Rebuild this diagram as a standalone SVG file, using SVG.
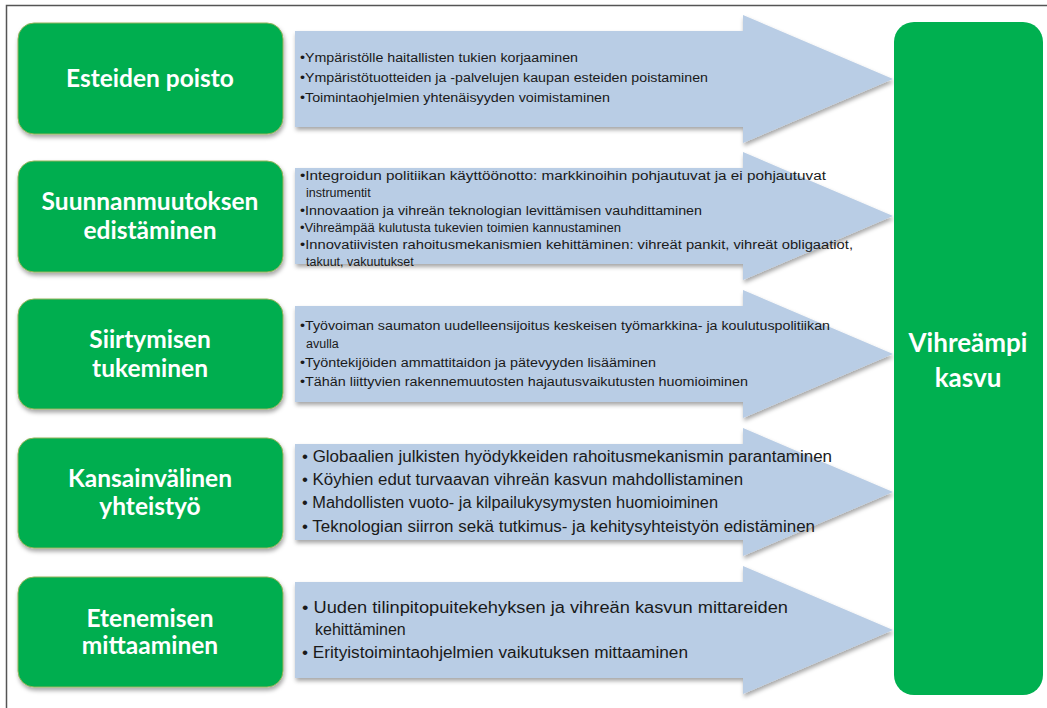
<svg xmlns="http://www.w3.org/2000/svg" width="1047" height="708" viewBox="0 0 1047 708">
<defs>
<filter id="sh" x="-10%" y="-10%" width="120%" height="130%">
<feDropShadow dx="1" dy="3" stdDeviation="2" flood-color="#000" flood-opacity="0.35"/>
</filter>
<path id="arrowShape" d="M0,16 H448 V0 L598,64 L448,128 V112 H0 Z"/>
</defs>
<style>
.frame{stroke:#555;stroke-width:1.5;fill:none}
.box{fill:#00AE4F;stroke:#94B35A;stroke-width:1;filter:url(#sh)}
.big{fill:#00B050}
.arr{fill:#B9CDE5;filter:url(#sh)}
.h{font-family:Lato,"Liberation Sans",sans-serif;font-weight:bold;font-size:24.5px;fill:#fff;text-anchor:middle}
.hb{font-family:Lato,"Liberation Sans",sans-serif;font-weight:bold;font-size:26px;fill:#fff;text-anchor:middle}
.s{font-family:"Liberation Sans",sans-serif;font-size:12.5px;fill:#1a1a1a}
.m{font-family:"Liberation Sans",sans-serif;font-size:16px;fill:#1a1a1a}
</style>
<path class="frame" d="M6.5,708 V5.5 H1047"/>

<g id="connectors">
<use href="#arrowShape" class="arr" x="295" y="15"/>
<use href="#arrowShape" class="arr" x="295" y="152"/>
<use href="#arrowShape" class="arr" x="295" y="290"/>
<use href="#arrowShape" class="arr" x="295" y="428"/>
<use href="#arrowShape" class="arr" x="295" y="566"/>
</g>

<g id="node-target">
<rect class="big" x="894" y="22" width="149" height="673" rx="20"/>
<text class="hb" x="968" y="352">Vihreämpi</text>
<text class="hb" x="968" y="387">kasvu</text>
</g>

<g id="node-esteiden">
<rect class="box" x="18" y="23" width="265" height="111" rx="16"/>
<text class="h" x="150" y="87">Esteiden poisto</text>
</g>
<g id="node-suunnan">
<rect class="box" x="18" y="161" width="265" height="111" rx="16"/>
<text class="h" x="150" y="210">Suunnanmuutoksen</text>
<text class="h" x="150" y="239">edistäminen</text>
</g>
<g id="node-siirtymisen">
<rect class="box" x="18" y="299" width="265" height="110" rx="16"/>
<text class="h" x="150" y="348">Siirtymisen</text>
<text class="h" x="150" y="377">tukeminen</text>
</g>
<g id="node-kansainvalinen">
<rect class="box" x="18" y="438" width="265" height="110" rx="16"/>
<text class="h" x="150" y="487">Kansainvälinen</text>
<text class="h" x="150" y="515">yhteistyö</text>
</g>
<g id="node-etenemisen">
<rect class="box" x="18" y="577" width="265" height="110" rx="16"/>
<text class="h" x="150" y="627">Etenemisen</text>
<text class="h" x="150" y="654">mittaaminen</text>
</g>

<g id="text-arrow1">
<text class="s" x="300" y="62" textLength="278" lengthAdjust="spacingAndGlyphs">•Ympäristölle haitallisten tukien korjaaminen</text>
<text class="s" x="300" y="82" textLength="408" lengthAdjust="spacingAndGlyphs">•Ympäristötuotteiden ja -palvelujen kaupan esteiden poistaminen</text>
<text class="s" x="300" y="102" textLength="310" lengthAdjust="spacingAndGlyphs">•Toimintaohjelmien yhtenäisyyden voimistaminen</text>
</g>
<g id="text-arrow2">
<text class="s" x="300" y="180" textLength="526" lengthAdjust="spacingAndGlyphs">•Integroidun politiikan käyttöönotto:  markkinoihin pohjautuvat  ja ei pohjautuvat</text>
<text class="s" x="306" y="197">instrumentit</text>
<text class="s" x="300" y="215" textLength="402" lengthAdjust="spacingAndGlyphs">•Innovaation ja vihreän teknologian levittämisen vauhdittaminen</text>
<text class="s" x="300" y="232" textLength="321" lengthAdjust="spacingAndGlyphs">•Vihreämpää kulutusta tukevien toimien kannustaminen</text>
<text class="s" x="300" y="249" textLength="553" lengthAdjust="spacingAndGlyphs">•Innovatiivisten rahoitusmekanismien kehittäminen: vihreät pankit, vihreät obligaatiot,</text>
<text class="s" x="306" y="266">takuut, vakuutukset</text>
</g>
<g id="text-arrow3">
<text class="s" x="300" y="330" textLength="530" lengthAdjust="spacingAndGlyphs">•Työvoiman saumaton uudelleensijoitus keskeisen työmarkkina-  ja koulutuspolitiikan</text>
<text class="s" x="306" y="348">avulla</text>
<text class="s" x="300" y="367" textLength="356" lengthAdjust="spacingAndGlyphs">•Työntekijöiden ammattitaidon  ja pätevyyden lisääminen</text>
<text class="s" x="300" y="386" textLength="448" lengthAdjust="spacingAndGlyphs">•Tähän liittyvien rakennemuutosten hajautusvaikutusten  huomioiminen</text>
</g>
<g id="text-arrow4">
<text class="m" x="302" y="462" textLength="530" lengthAdjust="spacingAndGlyphs">•  Globaalien julkisten hyödykkeiden  rahoitusmekanismin parantaminen</text>
<text class="m" x="302" y="485" textLength="441" lengthAdjust="spacingAndGlyphs">•  Köyhien edut turvaavan vihreän kasvun mahdollistaminen</text>
<text class="m" x="302" y="508" textLength="416" lengthAdjust="spacingAndGlyphs">•  Mahdollisten vuoto-  ja kilpailukysymysten huomioiminen</text>
<text class="m" x="302" y="532" textLength="513" lengthAdjust="spacingAndGlyphs">•  Teknologian siirron sekä tutkimus-  ja kehitysyhteistyön  edistäminen</text>
</g>
<g id="text-arrow5">
<text class="m" x="302" y="613" textLength="486" lengthAdjust="spacingAndGlyphs">•  Uuden tilinpitopuitekehyksen  ja vihreän kasvun mittareiden</text>
<text class="m" x="315" y="635">kehittäminen</text>
<text class="m" x="302" y="658" textLength="386" lengthAdjust="spacingAndGlyphs">•  Erityistoimintaohjelmien vaikutuksen mittaaminen</text>
</g>
</svg>
